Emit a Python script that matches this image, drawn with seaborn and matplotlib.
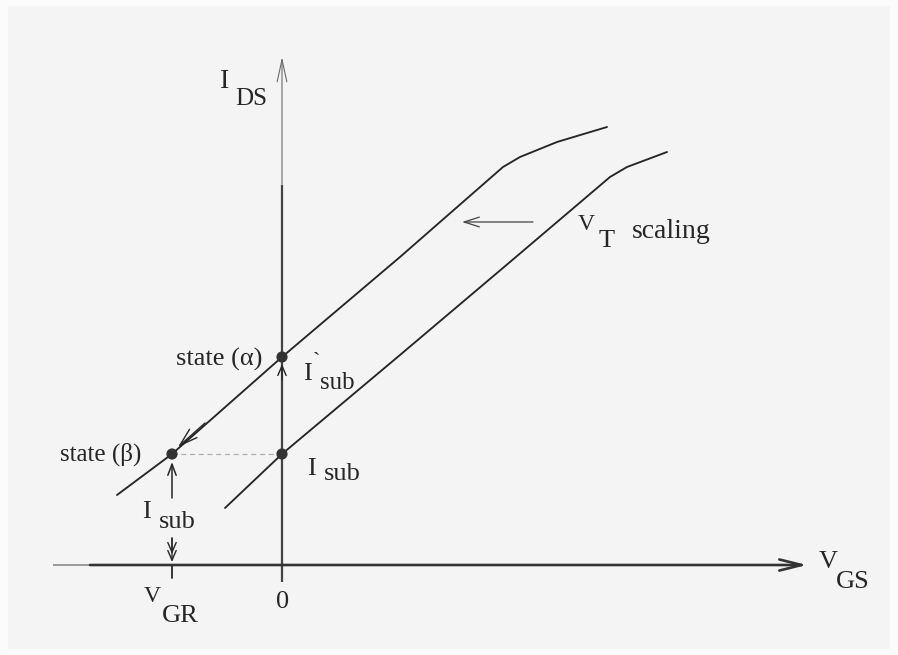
import matplotlib
matplotlib.use("Agg")
import matplotlib.pyplot as plt
from matplotlib.patches import Rectangle
import seaborn as sns
import pandas as pd

# Transfer characteristics I_DS(V_GS) before and after threshold-voltage scaling
vgs_scaled = [-1.65, -1.10, 0.00, 1.18, 2.21, 2.38, 2.75, 3.25]
ids_scaled = [0.70, 1.11, 2.08, 3.08, 3.98, 4.08, 4.23, 4.38]

vgs_orig = [-0.57, 0.00, 1.18, 2.28, 3.28, 3.45, 3.85]
ids_orig = [0.57, 1.11, 2.10, 3.03, 3.88, 3.98, 4.13]

# Operating points: state (alpha), state (beta), original I_sub point
state_names = ["alpha", "beta", "isub"]
state_vgs = [0.00, -1.10, 0.00]
state_ids = [2.08, 1.11, 1.11]

v_gr = -1.10

sns.set_style("white")
plt.rcParams["font.family"] = ["Liberation Serif", "DejaVu Serif"]

INK = "#262626"
TXT = "#262626"

fig = plt.figure(figsize=(8.98, 6.55), dpi=100)
fig.patch.set_facecolor("#fbfbfb")
ax = fig.add_axes([0, 0, 1, 1])
ax.set_facecolor("none")
ax.set_xlim(-2.82, 6.16)
ax.set_ylim(-0.90, 5.65)
ax.axis("off")
ax.add_patch(Rectangle((8 / 898, 6 / 655), 882 / 898, 643 / 655,
                       transform=ax.transAxes, facecolor="#f4f4f4",
                       edgecolor="none", zorder=-10))

curves = pd.concat([
    pd.DataFrame({"vgs": vgs_scaled, "ids": ids_scaled, "curve": "scaled"}),
    pd.DataFrame({"vgs": vgs_orig, "ids": ids_orig, "curve": "original"}),
])
sns.lineplot(data=curves, x="vgs", y="ids", units="curve", estimator=None,
             sort=False, color=INK, lw=1.35, ax=ax, legend=False)

# Axes drawn as arrows through the origin
ax.plot([-2.29, -1.92], [0, 0], color="#8a8a8a", lw=1.2, solid_capstyle="butt")
ax.annotate("", xy=(5.25, 0), xytext=(-1.92, 0),
            arrowprops=dict(arrowstyle="->,head_length=1.6,head_width=0.4",
                            color="#333333", lw=1.9, shrinkA=0, shrinkB=0))
ax.annotate("", xy=(0, 5.08), xytext=(0, 3.8),
            arrowprops=dict(arrowstyle="->,head_length=1.6,head_width=0.35",
                            color="#6a6a6a", lw=0.8, shrinkA=0, shrinkB=0))
ax.plot([0, 0], [-0.17, 3.8], color="#444444", lw=1.6, solid_capstyle="butt")
ax.plot([v_gr, v_gr], [0, -0.13], color=INK, lw=1.3)

# Dashed link between state (beta) and the original I_sub point
ax.plot([state_vgs[1], state_vgs[2]], [state_ids[1], state_ids[2]],
        color="#b0b0b0", lw=0.9, dashes=(4, 3))

sns.scatterplot(x=state_vgs, y=state_ids, s=65, color="#333333",
                edgecolor="none", ax=ax, zorder=5, legend=False)

def arrow(tail, tip, hl=1.0, hw=0.35, lw=1.0, color=INK):
    ax.annotate("", xy=tip, xytext=tail,
                arrowprops=dict(arrowstyle=f"->,head_length={hl},head_width={hw}",
                                color=color, lw=lw, shrinkA=0, shrinkB=0))

# V_T scaling shift
arrow((2.51, 3.43), (1.80, 3.43), hl=1.1, hw=0.35, lw=0.9, color="#444444")
# Transition from state (alpha) down to state (beta)
arrow((-0.77, 1.42), (-1.04, 1.18), hl=1.3, hw=0.4, lw=1.0)
# Substrate-current markers
arrow((0, 1.85), (0, 2.01), hl=0.7, hw=0.3, lw=1.0)
arrow((v_gr, 0.67), (v_gr, 1.03), hl=0.8, hw=0.3, lw=1.1)
arrow((v_gr, 0.27), (v_gr, 0.03), hl=0.7, hw=0.3, lw=1.0)
arrow((v_gr, 0.27), (v_gr, 0.11), hl=0.7, hw=0.3, lw=1.0)

def label(x, y, s, size=19, ha="center", va="baseline", color=TXT):
    ax.text(x, y, s, fontsize=size, ha=ha, va=va, color=color)

label(-0.57, 4.77, "I", 20)
label(-0.31, 4.60, "DS", 18)

label(5.46, -0.03, "V", 19)
label(5.71, -0.23, "GS", 19)

label(-1.30, -0.37, "V", 17)
label(-1.02, -0.57, "GR", 19)
label(0.01, -0.43, "0", 19)

label(-1.36, 0.47, "I", 19)
label(-1.05, 0.37, "sub", 19)

label(0.29, 0.90, "I", 19)
label(0.60, 0.85, "sub", 19)

label(0.25, 1.85, "I", 19)
label(0.34, 2.12, "`", 16, va="top")
label(0.55, 1.76, "sub", 18)

label(-0.20, 1.99, "state (α)", 19, ha="right")
label(-1.81, 1.04, "state (β)", 18)

label(3.04, 3.35, "V", 17)
label(3.25, 3.18, "T", 19)
label(3.50, 3.27, "scaling", 20, ha="left")

fig.savefig("out.png", dpi=100, facecolor=fig.get_facecolor())
